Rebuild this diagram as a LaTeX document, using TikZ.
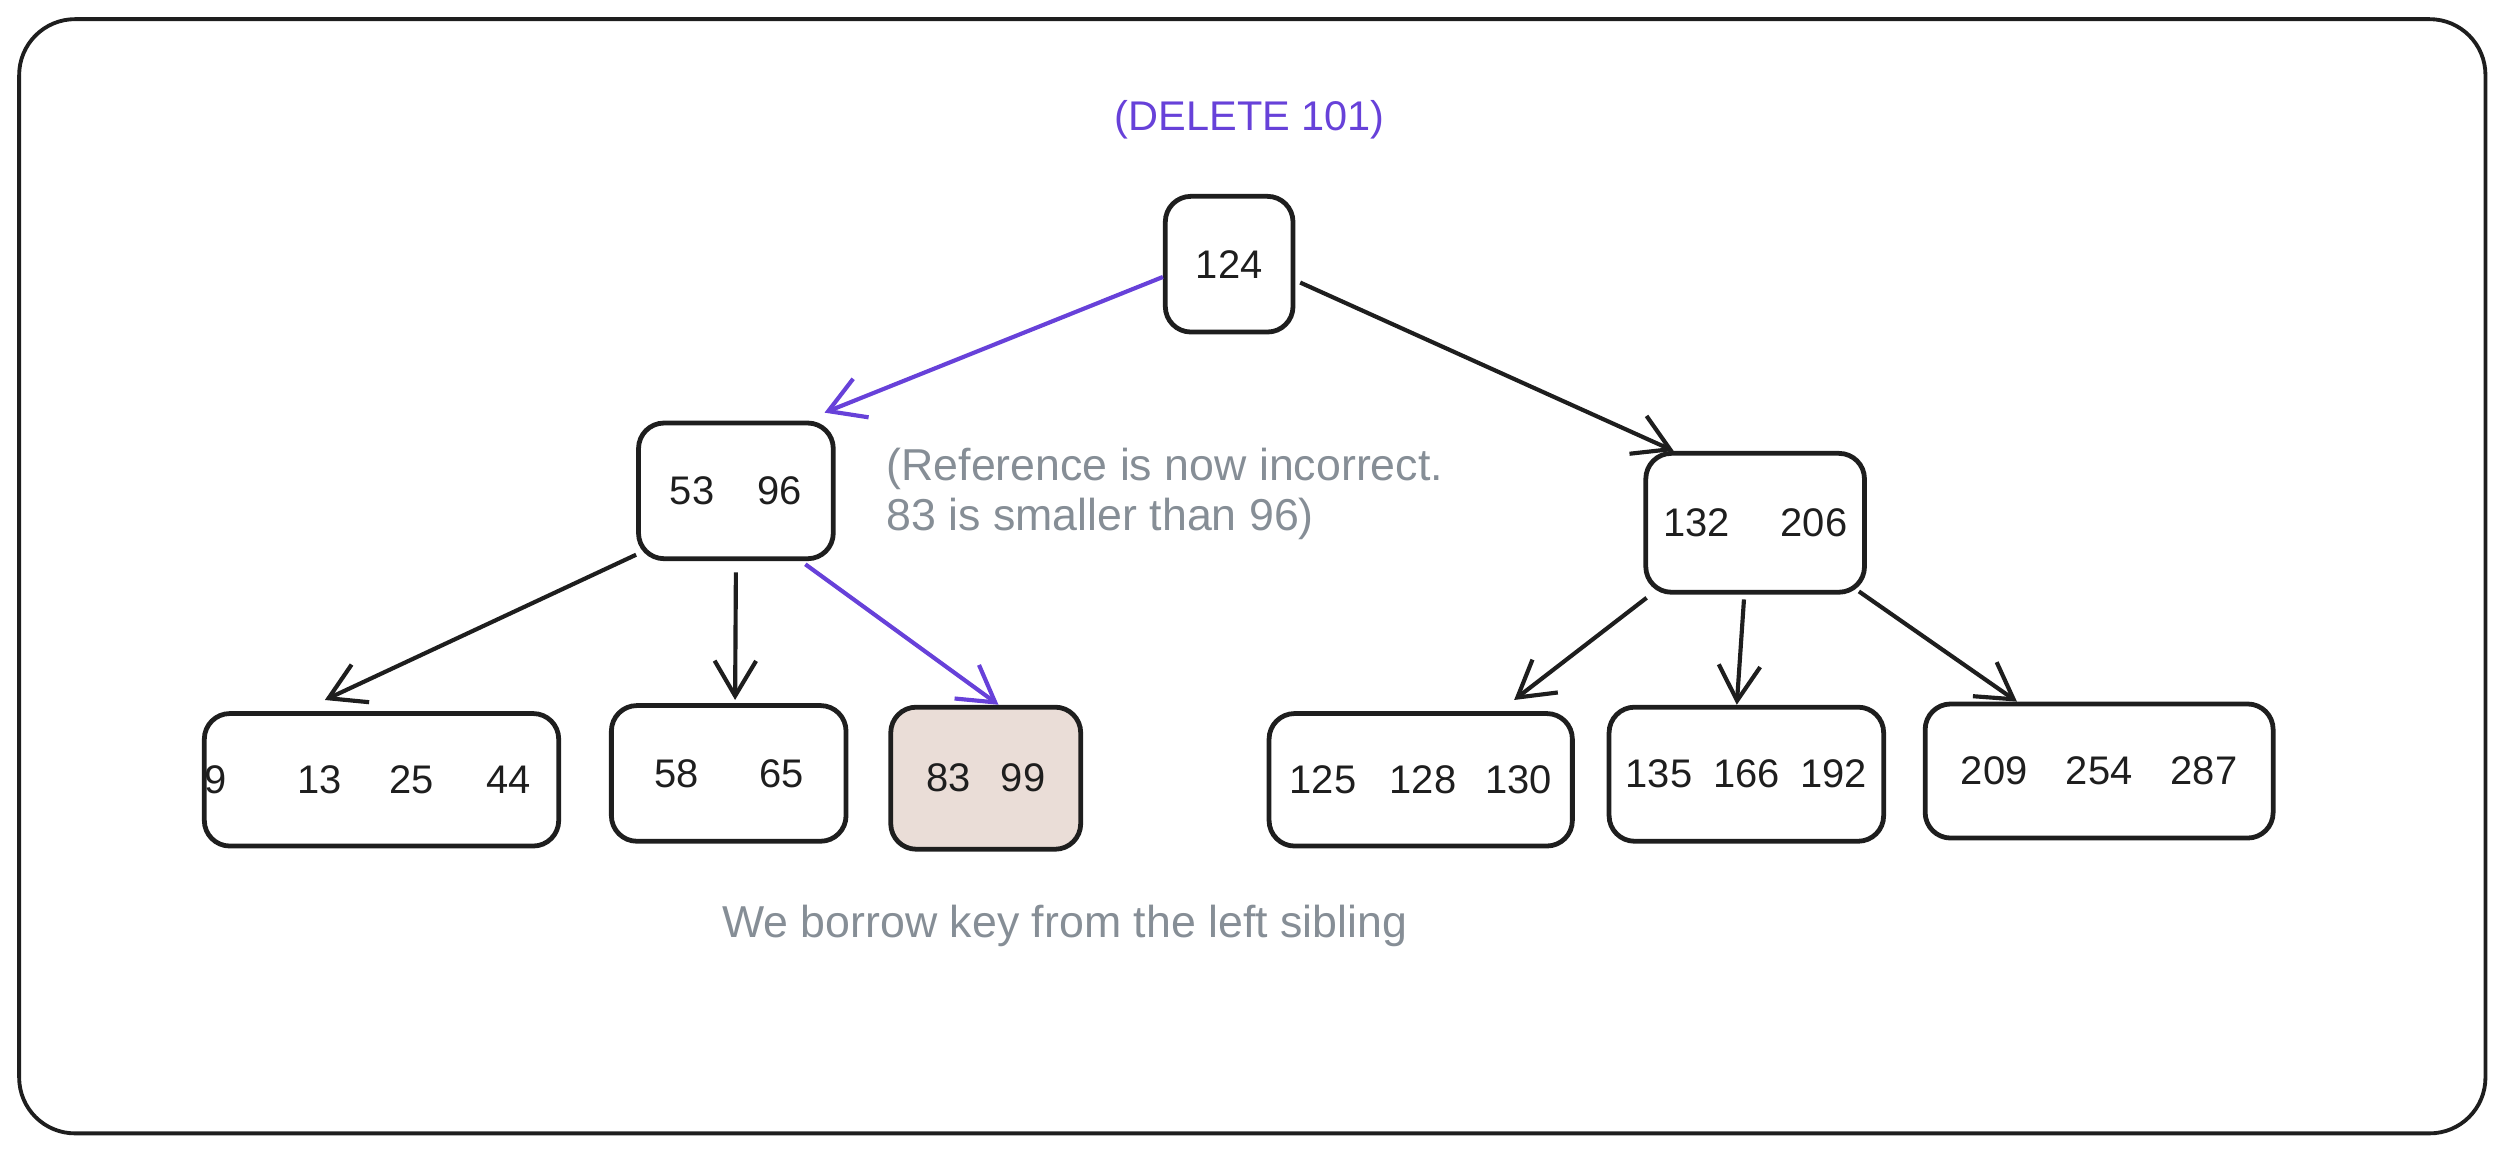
\documentclass[tikz,border=0pt]{standalone}
\usepackage{fontspec}
\setmainfont{Liberation Sans}
\usetikzlibrary{arrows.meta}
\definecolor{ink}{HTML}{1E1E1E}
\definecolor{delviolet}{HTML}{6741D9}
\definecolor{notegray}{HTML}{868E96}
\definecolor{hilite}{HTML}{EADDD7}
\begin{document}
\begin{tikzpicture}[x=0.5pt,y=-0.5pt,
  key/.style={draw=ink, line width=1.5pt, rounded corners=8pt, inner sep=0pt,
    font=\fontsize{12.5}{14}\selectfont, text=ink},
  edge/.style={draw=ink, line width=1.3pt, -{Straight Barb[length=11pt,width=13pt]}},
  hot/.style={edge, draw=delviolet},
  notetext/.style={text=notegray, font=\fontsize{14}{15.5}\selectfont, inner sep=0pt}]
\useasboundingbox (0,0) rectangle (1568,722);
\draw[ink, line width=1.2pt, rounded corners=17.5pt] (12,12) rectangle (1557,710);

\node[text=delviolet, font=\fontsize{13}{15}\selectfont] (title) at (783,75) {(DELETE 101)};

\node[key, minimum width=40pt, minimum height=42.5pt] (root) at (770,165.5) {124};
\node[key, minimum width=61pt, minimum height=42.5pt] (n1) at (461,307.5) {53\hspace*{13.5pt}96};
\node[key, minimum width=68.5pt, minimum height=43.5pt] (n2) at (1099.5,327.5) {132\hspace*{16pt}206};

\node[key, minimum width=111pt, minimum height=41.5pt] (l1) at (239,488.5) {9\hspace*{22pt}13\hspace*{15pt}25\hspace*{16.5pt}44\hspace*{8.5pt}};
\node[key, minimum width=73.5pt, minimum height=42.5pt] (l2) at (456.5,484.5) {58\hspace*{19pt}65};
\node[key, fill=hilite, minimum width=59.5pt, minimum height=44.5pt] (l3) at (617.5,487.5) {83\hspace*{9.5pt}99};
\node[key, minimum width=95pt, minimum height=41.5pt] (l4) at (890,488.5) {125\hspace*{10.5pt}128\hspace*{9pt}130};
\node[key, minimum width=86pt, minimum height=42pt] (l5) at (1094,485) {135\hspace*{6.5pt}166\hspace*{6.5pt}192};
\node[key, minimum width=109pt, minimum height=42pt] (l6) at (1315,483) {209\hspace*{12pt}254\hspace*{12pt}287};

\node[notetext, anchor=west, align=left] (ann) at (555,309.5) {(Reference is now incorrect.\\83 is smaller than 96)};
\node[notetext] (borrow) at (667,580) {We borrow key from the left sibling};

\draw[hot] ([yshift=-4pt]root.west) -- ([xshift=-3.5pt,yshift=2.5pt]n1.north east);
\draw[edge] ([xshift=1.5pt,yshift=-5.75pt]root.east) -- ([xshift=9.5pt]n2.north west);
\draw[edge] ([yshift=2pt]n1.south west) -- ([xshift=38.5pt,yshift=3.5pt]l1.north west);
\draw[edge] ([yshift=-3.5pt]n1.south) -- ([xshift=2pt,yshift=1pt]l2.north);
\draw[hot] ([xshift=-9.5pt,yshift=-1pt]n1.south east) -- ([xshift=4pt]l3.north);
\draw[edge] ([xshift=1pt,yshift=-1pt]n2.south west) -- ([xshift=-19pt,yshift=3.5pt]l4.north east);
\draw[edge] ([xshift=-3.5pt,yshift=-1.5pt]n2.south) -- ([xshift=-3pt]l5.north);
\draw[edge] ([xshift=-2.5pt,yshift=1pt]n2.south east) -- ([xshift=29.5pt]l6.north west);
\end{tikzpicture}
\end{document}
